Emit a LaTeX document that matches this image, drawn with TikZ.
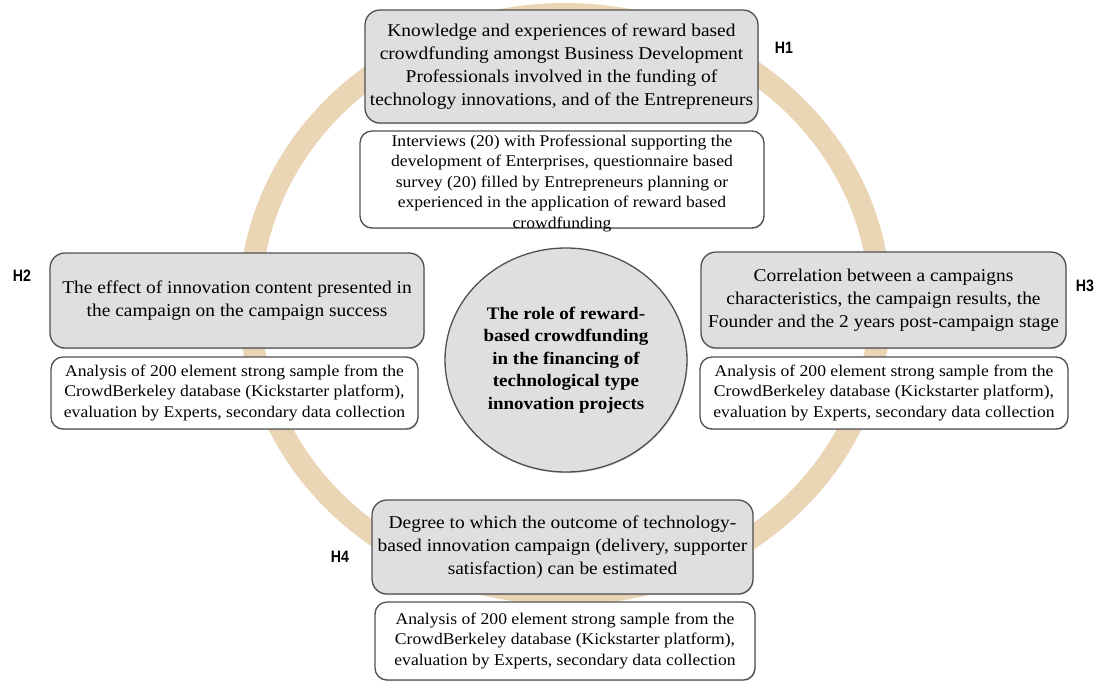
\documentclass[tikz,border=0pt]{standalone}
\usepackage{fontspec}
\setmainfont{Liberation Serif}[FakeStretch=1.08]
\newfontfamily\hfont{Liberation Sans}[FakeStretch=0.86]
\usetikzlibrary{shapes.geometric,shadows}
\definecolor{ringtan}{RGB}{234,213,181}
\definecolor{boxgray}{RGB}{223,223,223}
\definecolor{edgegray}{RGB}{80,80,80}

\begin{document}
\begin{tikzpicture}[x=1pt,y=-1pt,
  base/.style={draw=edgegray, line width=1.3pt, align=center, inner sep=0pt, text=black,
    drop shadow={shadow xshift=0.6pt, shadow yshift=-1.2pt, opacity=0.35}},
  topic/.style={base, fill=boxgray, rounded corners=15pt, font=\fontsize{18}{23}\selectfont},
  method/.style={base, fill=white, rounded corners=12pt, font=\fontsize{16.3}{20.5}\selectfont},
  methodtext/.style={align=center, inner sep=0pt, text=black, font=\fontsize{16.3}{20.5}\selectfont},
  core/.style={base, ellipse, fill=boxgray, minimum width=242pt, minimum height=224pt,
    font=\bfseries\fontsize{17.6}{22.5}\selectfont},
  hyp/.style={font=\hfont\bfseries\fontsize{16.5}{16.5}\selectfont, inner sep=0pt},
  ring/.style={draw=ringtan, line width=22pt}
]
\useasboundingbox (0,0) rectangle (1103,681);

% background ring linking the four hypotheses
\draw[ring] (565,304) ellipse [x radius=315, y radius=290];

% central theme
\node[core] (core) at (566,360) {The role of reward-\\based crowdfunding\\in the financing of\\technological type\\innovation projects};

% H1
\node[topic, minimum width=393pt, minimum height=113pt] (t1) at (561.5,66.5)
  {Knowledge and experiences of reward based\\crowdfunding amongst Business Development\\Professionals involved in the funding of\\technology innovations, and of the Entrepreneurs};
\node[method, minimum width=404pt, minimum height=97pt] (m1) at (562,179.5) {};
\node[methodtext] (m1text) at ([yshift=-4pt]m1.center)
  {Interviews (20) with Professional supporting the\\development of Enterprises, questionnaire based\\survey (20) filled by Entrepreneurs planning or\\experienced in the application of reward based\\crowdfunding};
\node[hyp] (h1) at (784,48) {H1};

% H2
\node[topic, minimum width=374pt, minimum height=95pt] (t2) at (237,300.5)
  {The effect of innovation content presented in\\the campaign on the campaign success};
\node[method, minimum width=367pt, minimum height=72pt] (m2) at (234.5,393)
  {Analysis of 200 element strong sample from the\\CrowdBerkeley database (Kickstarter platform),\\evaluation by Experts, secondary data collection};
\node[hyp] (h2) at (22,276) {H2};

% H3
\node[topic, minimum width=365pt, minimum height=96pt] (t3) at (883.5,300)
  {Correlation between a campaigns\\characteristics, the campaign results, the\\Founder and the 2 years post-campaign stage};
\node[method, minimum width=368pt, minimum height=72pt] (m3) at (884,393)
  {Analysis of 200 element strong sample from the\\CrowdBerkeley database (Kickstarter platform),\\evaluation by Experts, secondary data collection};
\node[hyp] (h3) at (1085,286) {H3};

% H4
\node[topic, minimum width=381pt, minimum height=94pt] (t4) at (562.5,547)
  {Degree to which the outcome of technology-\\based innovation campaign (delivery, supporter\\satisfaction) can be estimated};
\node[method, minimum width=380pt, minimum height=78pt] (m4) at (565,641)
  {Analysis of 200 element strong sample from the\\CrowdBerkeley database (Kickstarter platform),\\evaluation by Experts, secondary data collection};
\node[hyp] (h4) at (340,557) {H4};
\end{tikzpicture}
\end{document}
